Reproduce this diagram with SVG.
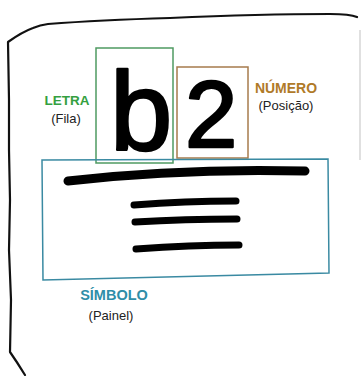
<svg xmlns="http://www.w3.org/2000/svg" width="361" height="376" viewBox="0 0 361 376">
<style>
.frame{fill:none;stroke:#111;stroke-width:2.2;stroke-linecap:round;stroke-linejoin:round}
.box{fill:none;stroke-width:1.5}
.ink{fill:none;stroke:#000;stroke-linecap:round;stroke-linejoin:round}
.big{font-family:"Liberation Sans",Arial,sans-serif;fill:#000;stroke:#000;stroke-width:2.5;stroke-linejoin:round}
.lbl{font-family:"Liberation Sans",Arial,sans-serif;font-weight:bold;text-anchor:middle}
.sub{font-family:"Liberation Sans",Arial,sans-serif;font-size:13px;fill:#222;text-anchor:middle}
</style>
<rect width="361" height="376" fill="#fff"/>
<g id="frame">
<path class="frame" d="M25,375 Q17,362 10,352 L11,300 L9,250 L10,200 L9,150 L9,100 L8,42 Q22,32 33,28 Q40,25 48,24 Q100,20 170,18 Q260,14 330,14 Q350,14 357,17"/>
<path d="M360,30 L360,160" fill="none" stroke="#ccc" stroke-width="1.2"/>
</g>
<g id="letra">
<rect class="box" x="96" y="48" width="77" height="115" stroke="#4f9a62"/>
<text class="big" x="110" y="150" font-size="112">b</text>
<text class="lbl" x="67" y="105" font-size="13.5" fill="#34a040">LETRA</text>
<text class="sub" x="66" y="123">(Fila)</text>
</g>
<g id="numero">
<rect class="box" x="177" y="67" width="71" height="91" stroke="#a77b4c"/>
<text class="big" x="185" y="147" font-size="94">2</text>
<text class="lbl" x="286" y="93" font-size="14" fill="#b07a28">NÚMERO</text>
<text class="sub" x="286" y="110">(Posição)</text>
</g>
<g id="simbolo">
<path class="box" d="M42,160 L328,159 L329,273 L43,280 Z" stroke="#3a8aa2"/>
<path class="ink" stroke-width="9" d="M68,181 Q180,168 305,171"/>
<path class="ink" stroke-width="7" d="M134,205 Q185,201 236,201"/>
<path class="ink" stroke-width="7" d="M135,222 Q185,219 237,219"/>
<path class="ink" stroke-width="7" d="M136,249 Q190,245 239,245"/>
<text class="lbl" x="114" y="300" font-size="14.5" fill="#2f8ea8">SÍMBOLO</text>
<text class="sub" x="111" y="320">(Painel)</text>
</g>
</svg>
